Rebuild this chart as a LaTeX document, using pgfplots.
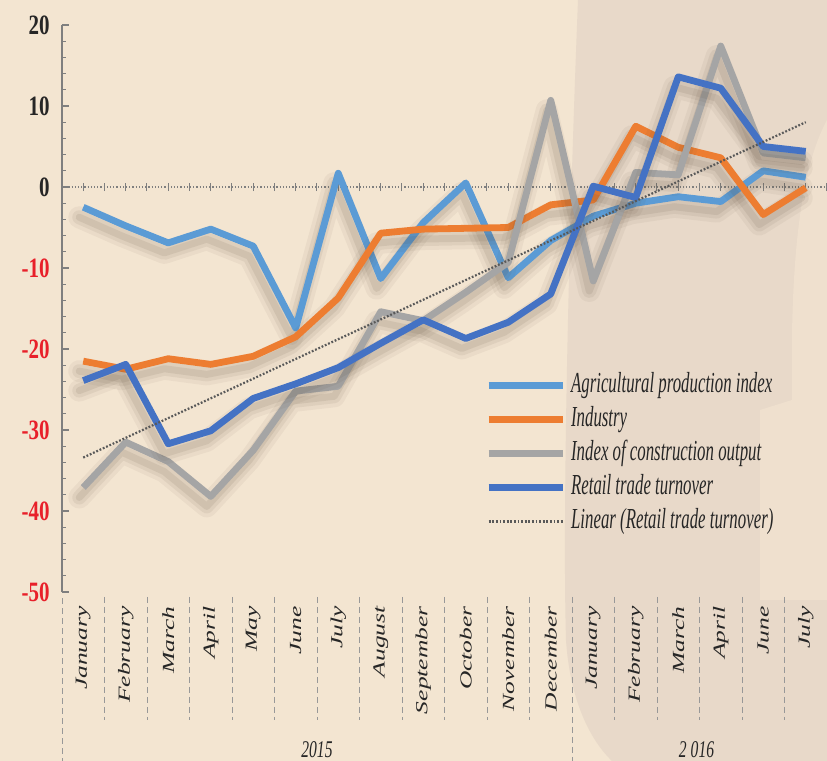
\documentclass[border=0pt]{standalone}
\usepackage{pgfplots}
\pgfplotsset{compat=1.18}
\usepackage{pgfplotstable}
\usepackage{fontspec}
\setmainfont{Liberation Serif}
\newfontfamily\ylabfont[FakeStretch=0.75]{Liberation Serif}
\newfontfamily\legfont[FakeStretch=0.58]{Liberation Serif}
\newfontfamily\monfont[FakeStretch=1.5]{Liberation Serif}
\newfontfamily\yrfont[FakeStretch=0.65]{Liberation Serif}
\definecolor{bg}{HTML}{F3E5D1}
\definecolor{bgdark}{HTML}{E8D9C9}
\definecolor{agri}{HTML}{5B9BD5}
\definecolor{ind}{HTML}{ED7D31}
\definecolor{cons}{HTML}{A5A5A5}
\definecolor{ret}{HTML}{4472C4}
\definecolor{trend}{HTML}{595959}
\definecolor{axisgray}{HTML}{7F7F7F}
\definecolor{ylabred}{HTML}{E8202A}
\definecolor{shadowcol}{HTML}{5A4A3A}

\pgfplotstableread{
x agri ind cons ret
0 -2.5 -21.5 -37.1 -23.9
1 -4.8 -22.5 -31.5 -21.9
2 -6.9 -21.2 -33.9 -31.7
3 -5.2 -21.9 -38.2 -30.1
4 -7.3 -20.9 -32.5 -26.1
5 -17.4 -18.5 -25.2 -24.3
6 1.7 -13.7 -24.6 -22.3
7 -11.3 -5.7 -15.4 -19.3
8 -4.4 -5.2 -16.5 -16.4
9 0.5 -5.1 -13.0 -18.7
10 -11.2 -5.0 -9.3 -16.7
11 -6.6 -2.2 10.7 -13.2
12 -3.6 -1.6 -11.6 0.1
13 -2.0 7.5 1.8 -1.3
14 -1.2 4.9 1.5 13.6
15 -1.8 3.6 17.4 12.2
16 2.0 -3.4 4.2 5.0
17 1.2 -0.1 3.6 4.4
}\datatable

\tikzset{
  shadowA/.style={draw=shadowcol, opacity=0.06, line width=11pt, line join=round, line cap=round, transform canvas={xshift=-2pt,yshift=-5pt}},
  shadowB/.style={draw=shadowcol, opacity=0.08, line width=7pt, line join=round, line cap=round, transform canvas={xshift=-2pt,yshift=-5pt}},
  shadowC/.style={draw=shadowcol, opacity=0.10, line width=3.5pt, line join=round, line cap=round, transform canvas={xshift=-2pt,yshift=-5pt}},
  mainline/.style={line width=3.4pt, line join=round}
}

\begin{document}
\begin{tikzpicture}
% background in px coordinates (origin top-left of image)
\begin{scope}[shift={(-31pt,296pt)}, x=0.5pt, y=-0.5pt]
  \fill[bg] (0,0) rectangle (827,761);
  \fill[bgdark] (578,0) .. controls (570,200) and (562,500) .. (566,640)
     .. controls (570,700) and (590,740) .. (612,761) -- (827,761) -- (827,0) -- cycle;
  \fill[bg!60!bgdark] (827,120) .. controls (800,170) and (790,260) .. (792,400)
     -- (760,410) -- (760,600) -- (827,600) -- cycle;
\end{scope}
\begin{axis}[
  at={(0,0)}, anchor=south west,
  scale only axis, width=382.5pt, height=283.5pt,
  xmin=-0.5, xmax=17.5, ymin=-50, ymax=20,
  clip=false,
  axis y line*=left,
  y axis line style={-, draw=axisgray, line width=0.8pt},
  axis x line*=bottom,
  x axis line style={draw=none},
  xtick={0,...,17},
  xticklabels={January,February,March,April,May,June,July,August,September,October,November,December,January,February,March,April,June,July},
  xtick style={draw=none},
  xticklabel style={rotate=90, anchor=east, font=\monfont\itshape\fontsize{8.5}{9}\selectfont, inner xsep=7pt, inner ysep=0pt, text=black!85},
  ytick={-50,-40,-30,-20,-10,0,10,20},
  yticklabels={\textcolor{ylabred}{-50},\textcolor{ylabred}{-40},\textcolor{ylabred}{-30},\textcolor{ylabred}{-20},\textcolor{ylabred}{-10},0,10,20},
  minor y tick num=4,
  tick align=inside,
  major tick length=3.5pt, minor tick length=2.2pt,
  ytick style={draw=axisgray, line width=0.6pt},
  yticklabel style={font=\ylabfont\bfseries\fontsize{14}{14}\selectfont, inner xsep=6pt, inner ysep=0pt, text=black!85},
  legend cell align=left,
  legend style={at={(rel axis cs:0.545,0.402)}, anchor=north west, draw=none, fill=none,
     font=\legfont\itshape\fontsize{14.5}{15}\selectfont, text=black!85,
     row sep=0pt, column sep=1pt,
     nodes={inner xsep=1.5pt, inner ysep=1pt, text height=11pt, text depth=4pt}},
  legend image code/.code={\draw[#1] (0pt,0pt) -- (37pt,0pt);},
]
% zero line with small ticks
\draw[axisgray, densely dotted, line width=0.6pt] (axis cs:-0.5,0) -- (axis cs:17.5,0);
\pgfplotsinvokeforeach{0,0.5,...,17.5}{
  \draw[axisgray, line width=0.5pt] ([yshift=-2pt]axis cs:#1,0) -- ([yshift=2pt]axis cs:#1,0);
}
% category separators below the axis
\pgfplotsinvokeforeach{0.5,1.5,...,10.5}{
  \draw[axisgray!80, densely dashed, line width=0.4pt] (axis cs:#1,-50.6) -- (axis cs:#1,-65.8);
}
\pgfplotsinvokeforeach{12.5,13.5,...,16.5}{
  \draw[axisgray!80, densely dashed, line width=0.4pt] (axis cs:#1,-50.6) -- (axis cs:#1,-65.8);
}
\draw[axisgray!80, densely dashed, line width=0.4pt] (axis cs:-0.5,-50.8) -- (axis cs:-0.5,-70.9);
\draw[axisgray!80, densely dashed, line width=0.4pt] (axis cs:11.5,-50.6) -- (axis cs:11.5,-70.9);
\node[font=\yrfont\itshape\fontsize{12}{12}\selectfont, text=black!85] at (axis cs:5.5,-69.4) {2015};
\node[font=\yrfont\itshape\fontsize{12}{12}\selectfont, text=black!85] at (axis cs:14.43,-69.4) {2\,016};

\addplot[shadowA, forget plot] table[x=x, y=agri] {\datatable};
\addplot[shadowB, forget plot] table[x=x, y=agri] {\datatable};
\addplot[shadowC, forget plot] table[x=x, y=agri] {\datatable};
\addplot[mainline, color=agri] table[x=x, y=agri] {\datatable};
\addlegendentry{Agricultural production index}

\addplot[shadowA, forget plot] table[x=x, y=ind] {\datatable};
\addplot[shadowB, forget plot] table[x=x, y=ind] {\datatable};
\addplot[shadowC, forget plot] table[x=x, y=ind] {\datatable};
\addplot[mainline, color=ind] table[x=x, y=ind] {\datatable};
\addlegendentry{Industry}

\addplot[shadowA, forget plot] table[x=x, y=cons] {\datatable};
\addplot[shadowB, forget plot] table[x=x, y=cons] {\datatable};
\addplot[shadowC, forget plot] table[x=x, y=cons] {\datatable};
\addplot[mainline, color=cons] table[x=x, y=cons] {\datatable};
\addlegendentry{Index of construction output}

\addplot[shadowA, forget plot] table[x=x, y=ret] {\datatable};
\addplot[shadowB, forget plot] table[x=x, y=ret] {\datatable};
\addplot[shadowC, forget plot] table[x=x, y=ret] {\datatable};
\addplot[mainline, color=ret] table[x=x, y=ret] {\datatable};
\addlegendentry{Retail trade turnover}

\addplot[color=trend, line width=1.1pt, dash pattern=on 0.9pt off 0.9pt] coordinates {(0,-33.4) (17,8.0)};
\addlegendentry{Linear (Retail trade turnover)}
\end{axis}
\pgfresetboundingbox
\useasboundingbox (-31pt,-84.5pt) rectangle (382.5pt,296pt);
\end{tikzpicture}
\end{document}
